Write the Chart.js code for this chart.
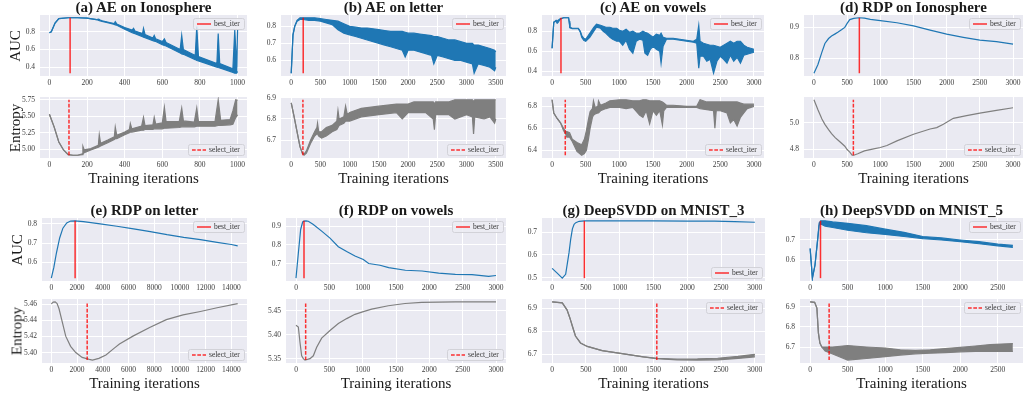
<!DOCTYPE html>
<html>
<head>
<meta charset="utf-8">
<title>AUC and entropy during training</title>
<script src="https://cdn.jsdelivr.net/npm/chart.js"></script>
<style>
  html, body { margin: 0; padding: 0; background: #fff; }
  #figure { position: relative; width: 1023px; height: 398px; overflow: hidden;
            font-family: "Liberation Serif", "Times New Roman", serif; color: #1a1a1a; }
  .cell { position: absolute; }
  .txt { position: absolute; transform: translate(-50%, -50%); white-space: nowrap; line-height: 1; }
  .title { font-weight: bold; font-size: 15px; }
  .xlab { font-size: 15px; }
  .ylab { font-size: 15px; transform: translate(-50%, -50%) rotate(-90deg); }
</style>
</head>
<body>
<div id="figure"></div>
<script>
// ---- tick labels ----
const itersTo1000 = [0, 200, 400, 600, 800, 1000];
const itersTo3500 = [0, 500, 1000, 1500, 2000, 2500, 3000, 3500];
const itersTo3000 = [0, 500, 1000, 1500, 2000, 2500, 3000];
const itersTo14000 = [0, 2000, 4000, 6000, 8000, 10000, 12000, 14000];
const itersTo2500 = [0, 500, 1000, 1500, 2000, 2500];

// ---- (a) AE on Ionosphere ----
const aeIonoAucX = [0, 10, 30, 50, 100, 150, 200, 250, 262, 270, 280, 320, 345, 350, 358, 400, 440, 447, 455, 495, 500, 508, 550, 557, 565, 600, 611, 620, 695, 703, 712, 775, 783, 792, 890, 897, 905, 975, 985, 995, 1000];
const aeIonoAucLo = [0.79, 0.80, 0.90, 0.95, 0.96, 0.96, 0.955, 0.94, 0.93, 0.925, 0.92, 0.90, 0.885, 0.88, 0.875, 0.83, 0.79, 0.785, 0.78, 0.745, 0.74, 0.735, 0.70, 0.695, 0.69, 0.655, 0.645, 0.64, 0.56, 0.55, 0.545, 0.485, 0.475, 0.47, 0.40, 0.395, 0.39, 0.34, 0.33, 0.33, 0.35];
const aeIonoAucHi = [0.79, 0.80, 0.90, 0.95, 0.96, 0.96, 0.955, 0.94, 0.945, 0.935, 0.925, 0.905, 0.895, 0.915, 0.89, 0.85, 0.82, 0.84, 0.81, 0.78, 0.84, 0.77, 0.73, 0.76, 0.72, 0.69, 0.72, 0.68, 0.60, 0.76, 0.60, 0.53, 0.86, 0.52, 0.44, 0.78, 0.44, 0.38, 0.82, 0.40, 0.82];
const aeIonoEntX = [0, 25, 50, 75, 100, 125, 150, 175, 178, 185, 220, 260, 265, 272, 310, 345, 350, 358, 400, 425, 430, 438, 490, 500, 508, 550, 557, 565, 600, 611, 620, 690, 703, 712, 770, 783, 792, 880, 897, 910, 960, 975, 990, 1000];
const aeIonoEntLo = [5.53, 5.34, 5.11, 4.99, 4.92, 4.91, 4.91, 4.92, 4.93, 4.95, 4.99, 5.03, 5.04, 5.05, 5.10, 5.15, 5.16, 5.16, 5.22, 5.25, 5.26, 5.26, 5.29, 5.29, 5.30, 5.30, 5.31, 5.31, 5.31, 5.32, 5.32, 5.33, 5.34, 5.34, 5.34, 5.35, 5.35, 5.35, 5.36, 5.36, 5.37, 5.38, 5.48, 5.52];
const aeIonoEntHi = [5.53, 5.34, 5.11, 4.99, 4.92, 4.91, 4.91, 4.93, 5.045, 4.99, 5.01, 5.06, 5.22, 5.09, 5.14, 5.19, 5.335, 5.21, 5.26, 5.30, 5.39, 5.31, 5.35, 5.485, 5.36, 5.37, 5.485, 5.38, 5.40, 5.635, 5.42, 5.42, 5.625, 5.43, 5.41, 5.625, 5.42, 5.42, 5.75, 5.44, 5.45, 5.58, 5.75, 5.74];
const aeIonoAucTicks = ['0.4', '0.6', '0.8'];
const aeIonoEntTicks = ['5.00', '5.25', '5.50', '5.75'];
const aeIonoBest = 110, aeIonoSelect = 104;

// ---- (b) AE on letter ----
const aeLetterAucX = [0, 30, 60, 100, 150, 205, 300, 400, 500, 600, 700, 800, 900, 1000, 1100, 1200, 1300, 1400, 1500, 1600, 1700, 1800, 1900, 1950, 2000, 2100, 2200, 2300, 2400, 2440, 2500, 2600, 2700, 2800, 2900, 3000, 3100, 3130, 3200, 3300, 3400, 3480, 3500];
const aeLetterAucLo = [0.525, 0.75, 0.80, 0.83, 0.84, 0.84, 0.835, 0.835, 0.83, 0.82, 0.81, 0.78, 0.76, 0.75, 0.74, 0.73, 0.72, 0.71, 0.70, 0.69, 0.68, 0.67, 0.66, 0.62, 0.66, 0.66, 0.65, 0.64, 0.63, 0.58, 0.63, 0.62, 0.61, 0.60, 0.60, 0.59, 0.58, 0.525, 0.58, 0.57, 0.56, 0.54, 0.56];
const aeLetterAucHi = [0.525, 0.75, 0.80, 0.835, 0.85, 0.85, 0.85, 0.85, 0.845, 0.84, 0.835, 0.83, 0.815, 0.80, 0.795, 0.79, 0.79, 0.785, 0.78, 0.775, 0.77, 0.77, 0.77, 0.765, 0.76, 0.76, 0.755, 0.75, 0.745, 0.74, 0.74, 0.73, 0.72, 0.72, 0.71, 0.70, 0.70, 0.69, 0.69, 0.68, 0.67, 0.66, 0.65];
const aeLetterEntX = [0, 50, 100, 150, 190, 220, 260, 330, 400, 440, 450, 470, 520, 600, 700, 780, 800, 820, 900, 930, 960, 1000, 1200, 1500, 1800, 1900, 2000, 2100, 2300, 2430, 2450, 2470, 2700, 2800, 3000, 3100, 3120, 3140, 3300, 3400, 3480, 3500];
const aeLetterEntLo = [6.875, 6.81, 6.74, 6.67, 6.64, 6.63, 6.64, 6.685, 6.72, 6.73, 6.73, 6.72, 6.71, 6.72, 6.74, 6.75, 6.76, 6.77, 6.78, 6.79, 6.79, 6.79, 6.81, 6.82, 6.83, 6.80, 6.83, 6.83, 6.83, 6.80, 6.75, 6.82, 6.82, 6.80, 6.82, 6.81, 6.73, 6.81, 6.80, 6.81, 6.78, 6.80];
const aeLetterEntHi = [6.875, 6.81, 6.74, 6.67, 6.64, 6.635, 6.65, 6.70, 6.74, 6.76, 6.78, 6.74, 6.74, 6.76, 6.77, 6.79, 6.84, 6.80, 6.81, 6.86, 6.82, 6.83, 6.85, 6.86, 6.87, 6.87, 6.87, 6.88, 6.88, 6.88, 6.87, 6.88, 6.88, 6.89, 6.89, 6.89, 6.88, 6.89, 6.89, 6.89, 6.89, 6.89];
const aeLetterAucTicks = ['0.6', '0.7', '0.8'];
const aeLetterEntTicks = ['6.7', '6.8', '6.9'];
const aeLetterBest = 205, aeLetterSelect = 200;

// ---- (c) AE on vowels ----
const aeVowelsAucX = [0, 25, 60, 75, 90, 120, 170, 245, 255, 265, 300, 390, 420, 440, 470, 500, 560, 620, 660, 720, 760, 800, 860, 900, 960, 1000, 1050, 1100, 1150, 1200, 1250, 1300, 1350, 1380, 1420, 1460, 1500, 1550, 1600, 1620, 1650, 1700, 1800, 1900, 2000, 2100, 2150, 2180, 2200, 2250, 2300, 2350, 2400, 2450, 2500, 2550, 2600, 2650, 2700, 2750, 2800, 2850, 2900, 2950, 3000];
const aeVowelsAucLo = [0.63, 0.89, 0.90, 0.88, 0.89, 0.92, 0.935, 0.935, 0.88, 0.835, 0.825, 0.825, 0.79, 0.74, 0.71, 0.70, 0.74, 0.80, 0.84, 0.83, 0.80, 0.78, 0.74, 0.72, 0.70, 0.70, 0.66, 0.71, 0.62, 0.58, 0.70, 0.72, 0.71, 0.58, 0.56, 0.62, 0.65, 0.62, 0.60, 0.48, 0.65, 0.72, 0.72, 0.71, 0.70, 0.69, 0.68, 0.43, 0.55, 0.55, 0.50, 0.52, 0.38, 0.50, 0.55, 0.52, 0.48, 0.56, 0.50, 0.54, 0.48, 0.56, 0.57, 0.58, 0.59];
const aeVowelsAucHi = [0.63, 0.89, 0.91, 0.90, 0.91, 0.925, 0.935, 0.935, 0.90, 0.84, 0.83, 0.83, 0.80, 0.76, 0.73, 0.72, 0.78, 0.84, 0.87, 0.86, 0.85, 0.84, 0.84, 0.83, 0.83, 0.81, 0.80, 0.82, 0.79, 0.80, 0.78, 0.78, 0.80, 0.79, 0.78, 0.76, 0.74, 0.77, 0.76, 0.78, 0.74, 0.73, 0.73, 0.72, 0.71, 0.70, 0.72, 0.86, 0.70, 0.68, 0.67, 0.66, 0.66, 0.65, 0.64, 0.66, 0.68, 0.70, 0.68, 0.70, 0.70, 0.66, 0.64, 0.63, 0.62];
const aeVowelsEntX = [0, 25, 75, 125, 170, 200, 220, 260, 300, 370, 440, 480, 510, 540, 565, 600, 615, 640, 680, 690, 720, 800, 860, 1000, 1100, 1200, 1300, 1350, 1400, 1450, 1500, 1550, 1600, 1640, 1660, 1700, 1800, 2000, 2150, 2200, 2300, 2400, 2420, 2440, 2500, 2600, 2650, 2700, 2750, 2800, 2850, 2900, 3000];
const aeVowelsEntLo = [6.86, 6.74, 6.69, 6.65, 6.58, 6.55, 6.52, 6.52, 6.48, 6.39, 6.355, 6.37, 6.40, 6.50, 6.60, 6.70, 6.72, 6.73, 6.74, 6.74, 6.76, 6.78, 6.79, 6.79, 6.78, 6.79, 6.72, 6.70, 6.76, 6.64, 6.76, 6.72, 6.76, 6.63, 6.76, 6.79, 6.79, 6.79, 6.79, 6.78, 6.77, 6.76, 6.60, 6.76, 6.76, 6.74, 6.65, 6.68, 6.62, 6.70, 6.74, 6.78, 6.80];
const aeVowelsEntHi = [6.86, 6.74, 6.69, 6.65, 6.60, 6.57, 6.57, 6.56, 6.50, 6.47, 6.45, 6.50, 6.58, 6.68, 6.75, 6.78, 6.85, 6.79, 6.80, 6.85, 6.81, 6.83, 6.85, 6.86, 6.86, 6.85, 6.85, 6.86, 6.86, 6.85, 6.85, 6.85, 6.85, 6.84, 6.83, 6.81, 6.81, 6.80, 6.80, 6.86, 6.84, 6.84, 6.84, 6.84, 6.84, 6.84, 6.84, 6.84, 6.84, 6.83, 6.82, 6.82, 6.82];
const aeVowelsAucTicks = ['0.4', '0.6', '0.8'];
const aeVowelsEntTicks = ['6.4', '6.6', '6.8'];
const aeVowelsBest = 132, aeVowelsSelect = 196;

// ---- (d) RDP on Ionosphere ----
const rdpIonoAucX = [0, 60, 120, 165, 220, 265, 320, 365, 420, 465, 500, 540, 600, 680, 760, 850, 1000, 1250, 1500, 1750, 2000, 2250, 2500, 2750, 3000];
const rdpIonoAuc = [0.752, 0.78, 0.82, 0.848, 0.864, 0.872, 0.879, 0.885, 0.893, 0.90, 0.913, 0.925, 0.929, 0.931, 0.93, 0.926, 0.922, 0.915, 0.905, 0.891, 0.878, 0.868, 0.859, 0.854, 0.846];
const rdpIonoEntX = [0, 60, 120, 165, 220, 265, 320, 365, 420, 465, 500, 540, 575, 600, 660, 760, 900, 1000, 1100, 1250, 1500, 1750, 1850, 1950, 2100, 2300, 2500, 2750, 3000];
const rdpIonoEnt = [5.175, 5.10, 5.03, 4.99, 4.95, 4.92, 4.89, 4.87, 4.845, 4.825, 4.80, 4.78, 4.757, 4.757, 4.768, 4.79, 4.805, 4.815, 4.83, 4.865, 4.915, 4.955, 4.965, 4.99, 5.035, 5.055, 5.075, 5.095, 5.115];
const rdpIonoAucTicks = ['0.8', '0.9'];
const rdpIonoEntTicks = ['4.8', '5.0'];
const rdpIonoBest = 684, rdpIonoSelect = 594;

// ---- (e) RDP on letter ----
const rdpLetterAucX = [0, 200, 400, 650, 900, 1200, 1500, 1850, 2500, 3800, 5100, 6400, 7700, 9000, 10300, 11600, 12900, 14000, 14500];
const rdpLetterAuc = [0.518, 0.575, 0.65, 0.727, 0.778, 0.805, 0.815, 0.816, 0.812, 0.80, 0.788, 0.774, 0.76, 0.744, 0.73, 0.718, 0.704, 0.693, 0.686];
const rdpLetterEntX = [0, 150, 300, 450, 600, 860, 1120, 1500, 1900, 2400, 2950, 3200, 3700, 4250, 4900, 5300, 6350, 7650, 8950, 10250, 11600, 12900, 14500];
const rdpLetterEnt = [5.4605, 5.4628, 5.463, 5.461, 5.4545, 5.4374, 5.4204, 5.4077, 5.40, 5.394, 5.3915, 5.3906, 5.3928, 5.397, 5.4055, 5.4106, 5.4204, 5.4311, 5.4409, 5.4468, 5.4511, 5.4557, 5.4609];
const rdpLetterAucTicks = ['0.6', '0.7', '0.8'];
const rdpLetterEntTicks = ['5.40', '5.42', '5.44', '5.46'];
const rdpLetterBest = 1851, rdpLetterSelect = 2790;

// ---- (f) RDP on vowels ----
const rdpVowelsAucX = [0, 35, 70, 100, 120, 150, 185, 260, 385, 510, 635, 760, 885, 1010, 1090, 1260, 1390, 1640, 1890, 2140, 2390, 2640, 2890, 3000];
const rdpVowelsAuc = [0.622, 0.755, 0.882, 0.922, 0.927, 0.928, 0.926, 0.909, 0.873, 0.836, 0.79, 0.764, 0.74, 0.722, 0.70, 0.691, 0.678, 0.664, 0.66, 0.649, 0.642, 0.641, 0.631, 0.636];
const rdpVowelsEntX = [0, 35, 60, 85, 110, 135, 210, 260, 310, 385, 510, 635, 760, 885, 1010, 1135, 1385, 1635, 1885, 2390, 3000];
const rdpVowelsEnt = [5.42, 5.4164, 5.384, 5.356, 5.35, 5.347, 5.35, 5.356, 5.374, 5.393, 5.409, 5.4236, 5.434, 5.443, 5.4486, 5.454, 5.461, 5.4657, 5.468, 5.469, 5.469];
const rdpVowelsAucTicks = ['0.7', '0.8', '0.9'];
const rdpVowelsEntTicks = ['5.35', '5.40', '5.45'];
const rdpVowelsBest = 120, rdpVowelsSelect = 145;

// ---- (g) DeepSVDD on MNIST_3 ----
const svdd3AucX = [0, 75, 150, 200, 250, 275, 300, 325, 350, 400, 480, 600, 1000, 1500, 2000, 2400, 2700, 3000];
const svdd3Auc = [0.541, 0.52, 0.498, 0.515, 0.61, 0.67, 0.715, 0.735, 0.742, 0.748, 0.750, 0.750, 0.750, 0.750, 0.749, 0.749, 0.747, 0.744];
const svdd3EntX = [0, 150, 220, 260, 300, 345, 420, 520, 740, 1010, 1350, 1550, 1850, 2150, 2450, 2750, 3000];
const svdd3EntLo = [6.927, 6.923, 6.893, 6.86, 6.822, 6.78, 6.75, 6.735, 6.717, 6.705, 6.69, 6.682, 6.677, 6.676, 6.677, 6.683, 6.690];
const svdd3EntHi = [6.927, 6.923, 6.893, 6.86, 6.822, 6.78, 6.75, 6.735, 6.717, 6.705, 6.69, 6.683, 6.680, 6.681, 6.684, 6.692, 6.701];
const svdd3AucTicks = ['0.5', '0.6', '0.7'];
const svdd3EntTicks = ['6.7', '6.8', '6.9'];
const svdd3Best = 477, svdd3Select = 1549;

// ---- (h) DeepSVDD on MNIST_5 ----
const svdd5AucX = [0, 30, 65, 100, 120, 140, 200, 300, 500, 750, 1000, 1250, 1500, 1750, 2000, 2250, 2500, 2700];
const svdd5AucLo = [0.657, 0.515, 0.578, 0.70, 0.77, 0.775, 0.765, 0.758, 0.745, 0.733, 0.725, 0.715, 0.705, 0.698, 0.69, 0.68, 0.67, 0.663];
const svdd5AucHi = [0.657, 0.515, 0.578, 0.70, 0.78, 0.79, 0.79, 0.785, 0.778, 0.767, 0.75, 0.735, 0.715, 0.708, 0.698, 0.69, 0.678, 0.672];
const svdd5EntX = [0, 60, 90, 110, 130, 155, 200, 300, 500, 750, 1000, 1200, 1400, 1600, 1800, 2000, 2200, 2400, 2700];
const svdd5EntLo = [6.924, 6.922, 6.893, 6.77, 6.72, 6.70, 6.68, 6.665, 6.635, 6.643, 6.652, 6.66, 6.666, 6.669, 6.672, 6.676, 6.678, 6.678, 6.678];
const svdd5EntHi = [6.924, 6.922, 6.893, 6.77, 6.72, 6.70, 6.70, 6.70, 6.707, 6.70, 6.695, 6.686, 6.683, 6.686, 6.692, 6.698, 6.705, 6.712, 6.717];
const svdd5AucTicks = ['0.6', '0.7'];
const svdd5EntTicks = ['6.7', '6.8', '6.9'];
const svdd5Best = 138, svdd5Select = 253;

// ---- styling ----
const BLUE = '#1f77b4';
const GREY = '#7f7f7f';
const RED = 'rgba(255, 0, 0, 0.8)';
const SERIF = '"Liberation Serif", "Times New Roman", serif';
const TICK_FONT = { family: SERIF, size: 7.5 };
const Y_AXIS_W = 36;
const X_AXIS_H = 16;
const PAD_TOP = 12;
const PAD_RIGHT = 14;

// seaborn-like grey plot face
const plotBg = {
  id: 'plotBg',
  beforeDraw(chart) {
    const { ctx, chartArea: a } = chart;
    ctx.save();
    ctx.fillStyle = '#eaeaf2';
    ctx.fillRect(a.left, a.top, a.right - a.left, a.bottom - a.top);
    ctx.restore();
  }
};

// small framed legend tucked into a corner of the plot
const cornerLegend = {
  id: 'cornerLegend',
  afterDatasetsDraw(chart, args, opts) {
    if (!opts.text) return;
    const { ctx, chartArea: a } = chart;
    ctx.save();
    ctx.font = '7.5px ' + SERIF;
    const tw = ctx.measureText(opts.text).width;
    const w = Math.round(tw + 25), h = 11;
    const x = Math.round(a.right - 3 - w);
    const y = Math.round(opts.position === 'top' ? a.top + 3 : a.bottom - 3 - h);
    ctx.beginPath();
    ctx.roundRect(x + 0.5, y + 0.5, w, h, 2);
    ctx.fillStyle = 'rgba(236, 236, 243, 0.85)';
    ctx.fill();
    ctx.strokeStyle = '#d2d2d8';
    ctx.lineWidth = 1;
    ctx.stroke();
    ctx.beginPath();
    ctx.setLineDash(opts.dashed ? [3.7, 1.6] : []);
    ctx.strokeStyle = RED;
    ctx.lineWidth = 1.5;
    ctx.moveTo(x + 4, y + h / 2 + 0.5);
    ctx.lineTo(x + 18, y + h / 2 + 0.5);
    ctx.stroke();
    ctx.setLineDash([]);
    ctx.fillStyle = '#333';
    ctx.textBaseline = 'middle';
    ctx.fillText(opts.text, x + 21, y + h / 2 + 1);
    ctx.restore();
  }
};

const fig = document.getElementById('figure');

function addText(cls, text, x, y) {
  const el = document.createElement('div');
  el.className = 'txt ' + cls;
  el.textContent = text;
  el.style.left = x + 'px';
  el.style.top = y + 'px';
  fig.appendChild(el);
}

const pts = (xs, ys) => xs.map((x, i) => ({ x, y: ys[i] }));

function subplot(area, series, color, marker, yTicks, xTicks, legend) {
  const cell = document.createElement('div');
  cell.className = 'cell';
  cell.style.left = (area.x0 - Y_AXIS_W) + 'px';
  cell.style.top = (area.y0 - PAD_TOP) + 'px';
  const canvas = document.createElement('canvas');
  canvas.width = area.x1 - area.x0 + Y_AXIS_W + PAD_RIGHT;
  canvas.height = area.y1 - area.y0 + PAD_TOP + X_AXIS_H;
  cell.appendChild(canvas);
  fig.appendChild(cell);

  const hi = series.hi || series.lo;
  const yMin = Math.min(...series.lo), yMax = Math.max(...hi);
  const xMin = series.x[0], xMax = series.x[series.x.length - 1];
  const yPad = (yMax - yMin) * 0.05, xPad = (xMax - xMin) * 0.05;

  // first dataset is painted last, so the marker sits on top
  const datasets = [{
    data: [{ x: marker.x, y: yMin }, { x: marker.x, y: yMax }],
    borderColor: RED, borderWidth: 1.5, borderDash: marker.dashed ? [3.7, 1.6] : [],
    pointRadius: 0, fill: false
  }, {
    data: pts(series.x, series.lo),
    borderColor: color, borderWidth: 1.2, pointRadius: 0, fill: false
  }];
  if (series.hi) {
    datasets.push({
      data: pts(series.x, series.hi),
      borderColor: color, backgroundColor: color, borderWidth: 1.2, pointRadius: 0, fill: '-1'
    });
  }

  new Chart(canvas, {
    type: 'line',
    data: { datasets },
    options: {
      responsive: false,
      animation: false,
      events: [],
      layout: { padding: { top: PAD_TOP, right: PAD_RIGHT, left: 0, bottom: 0 } },
      elements: { line: { tension: 0 }, point: { radius: 0 } },
      plugins: {
        legend: { display: false },
        tooltip: { enabled: false },
        cornerLegend: legend
      },
      scales: {
        x: {
          type: 'linear',
          min: xMin - xPad,
          max: xMax + xPad,
          afterBuildTicks: s => { s.ticks = xTicks.map(v => ({ value: v })); },
          afterFit: s => { s.height = X_AXIS_H; },
          ticks: { font: TICK_FONT, color: '#3c3c3c', padding: 3, maxRotation: 0, autoSkip: false,
                   callback: v => String(v) },
          grid: { color: '#ffffff', lineWidth: 1, drawTicks: false },
          border: { display: false }
        },
        y: {
          type: 'linear',
          min: yMin - yPad,
          max: yMax + yPad,
          afterBuildTicks: s => { s.ticks = yTicks.map(t => ({ value: parseFloat(t) })); },
          afterFit: s => { s.width = Y_AXIS_W; },
          ticks: { font: TICK_FONT, color: '#3c3c3c', padding: 5, autoSkip: false,
                   callback: (v, i) => yTicks[i] },
          grid: { color: '#ffffff', lineWidth: 1, drawTicks: false },
          border: { display: false }
        }
      }
    },
    plugins: [plotBg, cornerLegend]
  });
}

const rows = [
  { auc: [15, 76], ent: [97, 158], titleY: 7, xlabelY: 178, ylabelX: 15 },
  { auc: [218, 281], ent: [299, 363], titleY: 210, xlabelY: 383, ylabelX: 17 }
];

const panels = [
  { title: '(a) AE on Ionosphere', row: 0, xs: [40, 247], xTicks: itersTo1000,
    auc: { x: aeIonoAucX, lo: aeIonoAucLo, hi: aeIonoAucHi }, aucTicks: aeIonoAucTicks, aucLegend: 'top',
    ent: { x: aeIonoEntX, lo: aeIonoEntLo, hi: aeIonoEntHi }, entTicks: aeIonoEntTicks, entLegend: 'bottom',
    best: aeIonoBest, select: aeIonoSelect, ylabels: true },
  { title: '(b) AE on letter', row: 0, xs: [281, 506], xTicks: itersTo3500,
    auc: { x: aeLetterAucX, lo: aeLetterAucLo, hi: aeLetterAucHi }, aucTicks: aeLetterAucTicks, aucLegend: 'top',
    ent: { x: aeLetterEntX, lo: aeLetterEntLo, hi: aeLetterEntHi }, entTicks: aeLetterEntTicks, entLegend: 'bottom',
    best: aeLetterBest, select: aeLetterSelect },
  { title: '(c) AE on vowels', row: 0, xs: [542, 764], xTicks: itersTo3000,
    auc: { x: aeVowelsAucX, lo: aeVowelsAucLo, hi: aeVowelsAucHi }, aucTicks: aeVowelsAucTicks, aucLegend: 'top',
    ent: { x: aeVowelsEntX, lo: aeVowelsEntLo, hi: aeVowelsEntHi }, entTicks: aeVowelsEntTicks, entLegend: 'bottom',
    best: aeVowelsBest, select: aeVowelsSelect },
  { title: '(d) RDP on Ionosphere', row: 0, xs: [804, 1023], xTicks: itersTo3000,
    auc: { x: rdpIonoAucX, lo: rdpIonoAuc }, aucTicks: rdpIonoAucTicks, aucLegend: 'top',
    ent: { x: rdpIonoEntX, lo: rdpIonoEnt }, entTicks: rdpIonoEntTicks, entLegend: 'bottom',
    best: rdpIonoBest, select: rdpIonoSelect },
  { title: '(e) RDP on letter', row: 1, xs: [42, 247], xTicks: itersTo14000,
    auc: { x: rdpLetterAucX, lo: rdpLetterAuc }, aucTicks: rdpLetterAucTicks, aucLegend: 'top',
    ent: { x: rdpLetterEntX, lo: rdpLetterEnt }, entTicks: rdpLetterEntTicks, entLegend: 'bottom',
    best: rdpLetterBest, select: rdpLetterSelect, ylabels: true },
  { title: '(f) RDP on vowels', row: 1, xs: [286, 506], xTicks: itersTo3000,
    auc: { x: rdpVowelsAucX, lo: rdpVowelsAuc }, aucTicks: rdpVowelsAucTicks, aucLegend: 'top',
    ent: { x: rdpVowelsEntX, lo: rdpVowelsEnt }, entTicks: rdpVowelsEntTicks, entLegend: 'bottom',
    best: rdpVowelsBest, select: rdpVowelsSelect },
  { title: '(g) DeepSVDD on MNIST_3', row: 1, xs: [542, 765], xTicks: itersTo3000,
    auc: { x: svdd3AucX, lo: svdd3Auc }, aucTicks: svdd3AucTicks, aucLegend: 'bottom',
    ent: { x: svdd3EntX, lo: svdd3EntLo, hi: svdd3EntHi }, entTicks: svdd3EntTicks, entLegend: 'top',
    best: svdd3Best, select: svdd3Select },
  { title: '(h) DeepSVDD on MNIST_5', row: 1, xs: [800, 1023], xTicks: itersTo2500,
    auc: { x: svdd5AucX, lo: svdd5AucLo, hi: svdd5AucHi }, aucTicks: svdd5AucTicks, aucLegend: 'top',
    ent: { x: svdd5EntX, lo: svdd5EntLo, hi: svdd5EntHi }, entTicks: svdd5EntTicks, entLegend: 'top',
    best: svdd5Best, select: svdd5Select }
];

panels.forEach(p => {
  const r = rows[p.row];
  const [x0, x1] = p.xs;
  subplot({ x0, x1, y0: r.auc[0], y1: r.auc[1] }, p.auc, BLUE,
          { x: p.best, dashed: false }, p.aucTicks, p.xTicks,
          { text: 'best_iter', dashed: false, position: p.aucLegend });
  subplot({ x0, x1, y0: r.ent[0], y1: r.ent[1] }, p.ent, GREY,
          { x: p.select, dashed: true }, p.entTicks, p.xTicks,
          { text: 'select_iter', dashed: true, position: p.entLegend });

  const cx = (x0 + x1) / 2;
  addText('title', p.title, cx, r.titleY);
  addText('xlab', 'Training iterations', cx, r.xlabelY);
  if (p.ylabels) {
    addText('ylab', 'AUC', r.ylabelX, (r.auc[0] + r.auc[1]) / 2);
    addText('ylab', 'Entropy', r.ylabelX, (r.ent[0] + r.ent[1]) / 2);
  }
});
</script>
</body>
</html>
